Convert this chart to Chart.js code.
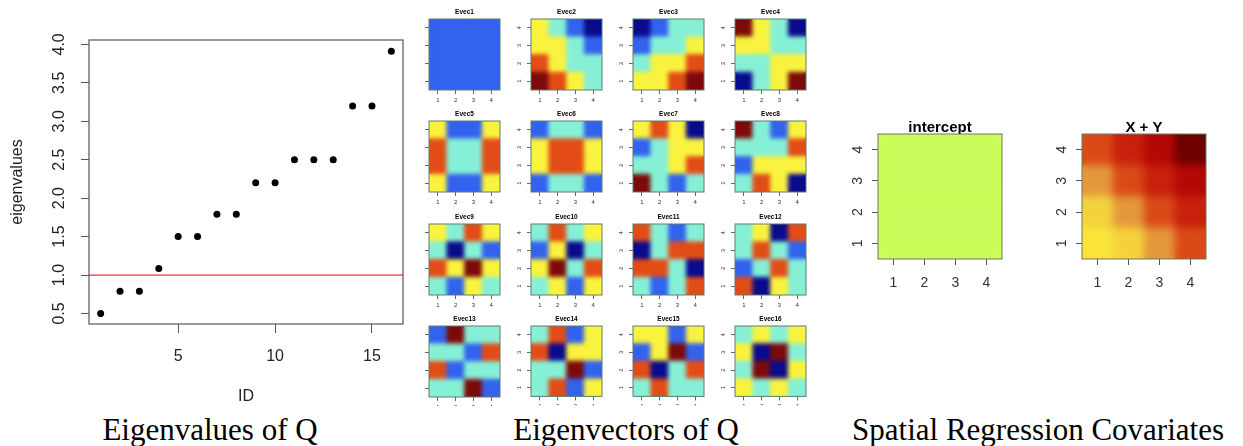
<!DOCTYPE html>
<html>
<head>
<meta charset="utf-8">
<title>Eigenvalues and eigenvectors of Q</title>
<script src="https://cdn.jsdelivr.net/npm/chart.js@4.4.1/dist/chart.umd.min.js"></script>
<style>
  html, body { margin: 0; padding: 0; background: #fff; }
  #page { position: relative; width: 1243px; height: 446px; overflow: hidden; }
  #page canvas { position: absolute; }
  .caption { position: absolute; top: 414px; z-index: 2; font: 31px/31px 'Liberation Serif', 'Times New Roman', serif; color: #000; white-space: nowrap; transform: translateX(-50%); }
</style>
</head>
<body>
<div id="page">
  <canvas id="eigen" width="420" height="410" style="left:0;top:0"></canvas>
  <div class="caption" style="left:210px">Eigenvalues of Q</div>
  <div class="caption" style="left:626px">Eigenvectors of Q</div>
  <div class="caption" style="left:1038px">Spatial Regression Covariates</div>
</div>
<script>
Chart.defaults.font.family = "'Liberation Sans', Arial, sans-serif";
Chart.defaults.animation = false;
Chart.defaults.responsive = false;

// eigenvalues of Q, by ID
const ids = [1, 2, 3, 4, 5, 6, 7, 8, 9, 10, 11, 12, 13, 14, 15, 16];
const eigenvalues = [0.5, 0.79, 0.79, 1.085, 1.5, 1.5, 1.79, 1.79, 2.2, 2.2, 2.5, 2.5, 2.5, 3.2, 3.2, 3.91];
const cutoff = 1.0;
const idTicks = [5, 10, 15];
const eigenTicks = [0.5, 1.0, 1.5, 2.0, 2.5, 3.0, 3.5, 4.0];
const idRange = [0.4, 16.6];
const eigenRange = [0.363, 4.057];

// the 4 x 4 lattice
const cells = ['1', '2', '3', '4'];
const cellTicks = [1, 2, 3, 4];

// eigenvector maps: colour class of each cell, rows y = 1..4, each row x = 1..4
// 0 dark blue, 1 blue, 2 aquamarine, 3 yellow, 4 orange-red, 5 dark red
const evecPalette = ['#0a0a8c', '#3262ee', '#86f0d6', '#f9f23e', '#e24c16', '#7c0a0a'];
const evec1  = [[1, 1, 1, 1], [1, 1, 1, 1], [1, 1, 1, 1], [1, 1, 1, 1]];
const evec2  = [[5, 4, 3, 2], [4, 3, 2, 2], [3, 3, 2, 1], [3, 2, 1, 0]];
const evec3  = [[3, 3, 4, 5], [2, 3, 3, 4], [1, 2, 2, 3], [0, 1, 2, 2]];
const evec4  = [[0, 2, 3, 5], [2, 2, 3, 3], [3, 3, 2, 2], [5, 3, 2, 0]];
const evec5  = [[3, 1, 1, 3], [4, 2, 2, 4], [4, 2, 2, 4], [3, 1, 1, 3]];
const evec6  = [[1, 2, 2, 1], [3, 4, 4, 3], [3, 4, 4, 3], [1, 2, 2, 1]];
const evec7  = [[5, 2, 1, 2], [2, 2, 3, 4], [1, 2, 3, 3], [3, 4, 3, 0]];
const evec8  = [[2, 4, 3, 0], [1, 3, 3, 3], [2, 2, 2, 4], [5, 2, 1, 3]];
const evec9  = [[2, 1, 3, 2], [4, 3, 5, 3], [2, 0, 2, 1], [3, 2, 4, 3]];
const evec10 = [[2, 3, 1, 3], [3, 5, 2, 4], [1, 3, 0, 2], [2, 4, 2, 3]];
const evec11 = [[2, 1, 2, 4], [4, 4, 2, 0], [0, 2, 4, 4], [4, 2, 1, 2]];
const evec12 = [[4, 0, 3, 2], [1, 2, 4, 2], [2, 4, 2, 1], [2, 3, 0, 4]];
const evec13 = [[2, 2, 5, 1], [4, 1, 2, 2], [2, 2, 1, 4], [1, 5, 2, 2]];
const evec14 = [[2, 4, 1, 3], [2, 2, 5, 1], [4, 0, 3, 3], [2, 4, 1, 3]];
const evec15 = [[2, 4, 2, 2], [4, 0, 2, 4], [1, 3, 5, 1], [3, 3, 1, 3]];
const evec16 = [[3, 2, 3, 2], [2, 5, 0, 3], [3, 0, 5, 2], [2, 3, 2, 3]];
const evecs = [evec1, evec2, evec3, evec4, evec5, evec6, evec7, evec8,
               evec9, evec10, evec11, evec12, evec13, evec14, evec15, evec16];

// regression covariates on the same lattice
const intercept = [[1, 1, 1, 1], [1, 1, 1, 1], [1, 1, 1, 1], [1, 1, 1, 1]];
const xPlusY = [[2, 3, 4, 5], [3, 4, 5, 6], [4, 5, 6, 7], [5, 6, 7, 8]];
const interceptColor = '#cbfb5a';
const heatPalette = { 2: '#fae43a', 3: '#f5d23c', 4: '#e4983c', 5: '#da4a18', 6: '#c8200c', 7: '#b40806', 8: '#6e0000' };

// box round the plot region
const frame = {
  id: 'frame',
  afterDraw(chart, args, opts) {
    const { ctx, chartArea: a } = chart;
    ctx.save();
    ctx.strokeStyle = opts.color;
    ctx.lineWidth = opts.width;
    ctx.strokeRect(a.left, a.top, a.width, a.height);
    ctx.restore();
  }
};

// the maps in the source are smoothed when scaled up
const soften = {
  id: 'soften',
  afterDatasetsDraw(chart, args, opts) {
    if (!opts.radius) return;
    const { ctx, chartArea: a } = chart;
    ctx.save();
    ctx.beginPath();
    ctx.rect(a.left, a.top, a.width, a.height);
    ctx.clip();
    ctx.filter = 'blur(' + opts.radius + 'px)';
    ctx.drawImage(ctx.canvas, a.left, a.top, a.width, a.height, a.left, a.top, a.width, a.height);
    ctx.restore();
  }
};

const page = document.getElementById('page');
function addCanvas(left, top, w, h) {
  const cv = document.createElement('canvas');
  cv.width = w;
  cv.height = h;
  cv.style.left = left + 'px';
  cv.style.top = top + 'px';
  page.appendChild(cv);
  return cv;
}

// an empty axis on the right as wide as the left one keeps the title centred on the box
function heatmap(canvas, title, grid, colorOf, g) {
  return new Chart(canvas, {
    type: 'bar',
    data: {
      labels: cells,
      datasets: grid.map((row, i) => ({
        data: row.map(() => [cellTicks[i] - 0.5, cellTicks[i] + 0.5]),
        backgroundColor: row.map(colorOf),
        borderWidth: 0,
        barPercentage: 1,
        categoryPercentage: 1,
        grouped: false
      }))
    },
    options: {
      layout: { padding: 0 },
      plugins: {
        legend: { display: false },
        tooltip: { enabled: false },
        title: {
          display: true, text: title, color: '#000',
          font: { size: g.titleSize, weight: 'bold', lineHeight: g.titleLine },
          padding: { top: g.titleTop, bottom: g.titleBottom }
        },
        frame: { color: g.frameColor, width: 1 },
        soften: { radius: g.blur }
      },
      scales: {
        x: {
          grid: { offset: false, drawOnChartArea: false, tickLength: g.tick, color: g.tickColor },
          border: { display: false },
          ticks: { color: g.textColor, font: { size: g.tickFont }, padding: g.xPad, maxRotation: 0 },
          afterFit: s => { s.height = g.bottom; }
        },
        y: {
          min: 0.5, max: 4.5,
          afterBuildTicks: s => { s.ticks = cellTicks.map(v => ({ value: v })); },
          grid: { drawOnChartArea: false, tickLength: g.tick, color: g.tickColor },
          border: { display: false },
          ticks: {
            display: g.yLabels, minRotation: 90, maxRotation: 90, crossAlign: 'center',
            padding: g.yPad, color: g.textColor, font: { size: g.tickFont }
          },
          afterFit: s => { s.width = g.left; }
        },
        spacer: {
          type: 'linear', position: 'right',
          grid: { display: false }, border: { display: false }, ticks: { display: false },
          afterFit: s => { s.width = g.left; }
        }
      }
    },
    plugins: [frame, soften]
  });
}

// eigenvalues
new Chart(document.getElementById('eigen'), {
  type: 'scatter',
  data: {
    datasets: [
      {
        data: ids.map((id, i) => ({ x: id, y: eigenvalues[i] })),
        backgroundColor: '#000', borderWidth: 0, pointRadius: 3.5
      },
      {
        data: [{ x: idRange[0], y: cutoff }, { x: idRange[1], y: cutoff }],
        showLine: true, pointRadius: 0, borderColor: '#f03030', borderWidth: 1.3
      }
    ]
  },
  options: {
    layout: { padding: { left: 0, top: 40, right: 17, bottom: 0 } },
    plugins: {
      legend: { display: false },
      tooltip: { enabled: false },
      frame: { color: '#555', width: 1.2 }
    },
    scales: {
      x: {
        type: 'linear', min: idRange[0], max: idRange[1],
        afterBuildTicks: s => { s.ticks = idTicks.map(v => ({ value: v })); },
        grid: { drawOnChartArea: false, tickLength: 9, color: '#555' },
        border: { display: false },
        ticks: { color: '#222', font: { size: 16 }, padding: 14 },
        title: { display: true, text: 'ID', color: '#222', font: { size: 16 }, padding: { top: 0, bottom: 3.4 } },
        afterFit: s => { s.height = 86; }
      },
      y: {
        min: eigenRange[0], max: eigenRange[1],
        afterBuildTicks: s => { s.ticks = eigenTicks.map(v => ({ value: v })); },
        grid: { drawOnChartArea: false, tickLength: 8, color: '#555' },
        border: { display: false },
        ticks: {
          color: '#222', font: { size: 16 }, padding: 10,
          minRotation: 90, maxRotation: 90, crossAlign: 'center',
          callback: v => v.toFixed(1)
        },
        title: { display: true, text: 'eigenvalues', color: '#222', font: { size: 16 }, padding: { top: 8.4, bottom: 0 } },
        afterFit: s => { s.width = 89; }
      }
    }
  },
  plugins: [frame]
});

// eigenvectors, 4 x 4 panels
evecs.forEach((grid, k) => {
  const r = Math.floor(k / 4), c = k % 4;
  const boxLeft = 429 + c * 102;
  const boxTop = Math.round(19 + r * 102.4);
  const h = r === 3 ? 96 : 103;
  heatmap(addCanvas(boxLeft - 26, boxTop - 16, 26 + 71 + 26, h), 'Evec' + (k + 1), grid, v => evecPalette[v], {
    left: 26, bottom: h - 16 - 71,
    titleSize: 6.5, titleLine: 1.2, titleTop: 5, titleBottom: 3.2,
    tick: 4, tickFont: 6, xPad: 2.4, yPad: 6, yLabels: c > 0,
    tickColor: '#666', textColor: '#333', frameColor: '#5e7e6e', blur: 2
  });
});

// covariates
const bigPanel = {
  left: 40, bottom: 40,
  titleSize: 15, titleLine: 0.8, titleTop: 8, titleBottom: 0,
  tick: 6, tickFont: 14, xPad: 9.6, yPad: 10, yLabels: true,
  tickColor: '#555', textColor: '#333', frameColor: '#6a7a5a', blur: 4
};
heatmap(addCanvas(838, 114, 40 + 124 + 40, 185), 'intercept', intercept, () => interceptColor, bigPanel);
heatmap(addCanvas(1042, 114, 40 + 124 + 40, 185), 'X + Y', xPlusY, v => heatPalette[v], bigPanel);
</script>
</body>
</html>
